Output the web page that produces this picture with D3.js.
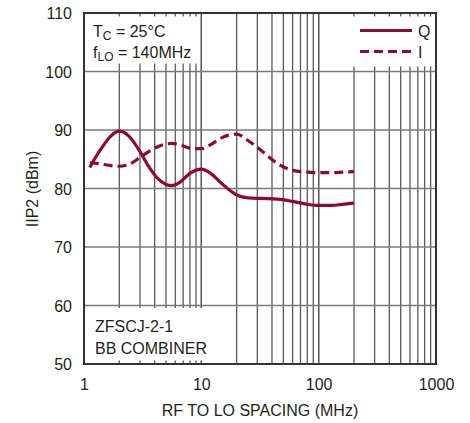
<!DOCTYPE html>
<html><head><meta charset="utf-8">
<script src="https://cdn.jsdelivr.net/npm/d3@7"></script>
<style>
body{margin:0;background:#fff;}
text{font-family:"Liberation Sans Narrow","Arial Narrow","Liberation Sans",sans-serif;fill:#231f20;}
</style></head>
<body><svg id="c" width="470" height="423"></svg>
<script>
const freqs = [1.12, 1.4, 1.7, 2.0, 2.4, 3.0, 3.5, 4.2, 5.0, 5.6, 6.5, 8, 10, 12, 15, 20, 25, 32, 45, 60, 80, 100, 130, 160, 200];
const qValues = [83.6, 86.8, 89.0, 89.8, 89.0, 86.3, 84.0, 81.8, 80.7, 80.5, 81.0, 82.6, 83.3, 82.6, 80.8, 78.9, 78.4, 78.3, 78.2, 77.8, 77.3, 77.1, 77.1, 77.3, 77.5];
const iValues = [84.4, 84.2, 83.9, 83.8, 84.1, 85.3, 86.2, 87.1, 87.6, 87.7, 87.5, 86.9, 86.8, 87.5, 88.7, 89.3, 88.2, 86.6, 84.2, 83.1, 82.8, 82.7, 82.7, 82.8, 82.9];
const xTicks = [1, 10, 100, 1000];
const yTicks = [50, 60, 70, 80, 90, 100, 110];
const seriesNames = ["Q", "I"];

const svg = d3.select("#c");
const L = 84, R = 436, T = 13, B = 364;
const x = d3.scaleLog().domain([1, 1000]).range([L, R]);
const y = d3.scaleLinear().domain([50, 110]).range([B, T]);
const col = "#8e0b2f";

// minor vertical grid
const minors = [];
for (let d = 1; d < 1000; d *= 10) for (let k = 1; k <= 10; k++) minors.push(d * k);
const g = svg.append("g");
g.selectAll("line.v").data(minors.filter(v => v > 1 && v < 1000)).enter().append("line")
  .attr("x1", d => x(d)).attr("x2", d => x(d)).attr("y1", T).attr("y2", B)
  .attr("stroke", "#5a5a5a").attr("stroke-width", 1.3);
g.selectAll("line.h").data(yTicks.filter(v => v > 50 && v < 110)).enter().append("line")
  .attr("x1", L).attr("x2", R).attr("y1", d => y(d)).attr("y2", d => y(d))
  .attr("stroke", "#7a7a7a").attr("stroke-width", 1.3);

// white label boxes
svg.append("rect").attr("x", L + 2).attr("y", T + 3.5).attr("width", 114).attr("height", 47).attr("fill", "#fff");
svg.append("rect").attr("x", 346).attr("y", T + 3.5).attr("width", R - 348).attr("height", 50).attr("fill", "#fff");
svg.append("rect").attr("x", L + 2).attr("y", 308).attr("width", 120).attr("height", B - 308 - 3.5).attr("fill", "#fff");

// frame
svg.append("rect").attr("x", L).attr("y", T).attr("width", R - L).attr("height", B - T)
  .attr("fill", "none").attr("stroke", "#333").attr("stroke-width", 2);

// axes labels
const xAxis = d3.axisBottom(x).tickValues(xTicks).tickFormat(d3.format("d")).tickSize(0).tickPadding(0);
const xa = svg.append("g").attr("transform", `translate(0,${B})`).call(xAxis);
xa.select(".domain").remove();
xa.selectAll("text").attr("dy", 0).attr("y", 26).style("font-size", "16px").attr("fill", "#231f20");
const yAxis = d3.axisLeft(y).tickValues(yTicks).tickSize(0).tickPadding(0);
const ya = svg.append("g").attr("transform", `translate(${L - 12},0)`).call(yAxis);
ya.select(".domain").remove();
ya.selectAll("text").attr("dy", "0.35em").style("font-size", "16px").attr("fill", "#231f20");

svg.append("text").attr("x", 260).attr("y", 416).attr("text-anchor", "middle").style("font-size", "16px").text("RF TO LO SPACING (MHz)");
svg.append("text").attr("transform", "translate(38,189) rotate(-90)").attr("text-anchor", "middle").style("font-size", "16px").text("IIP2 (dBm)");

// annotations
const t1 = svg.append("text").attr("x", 93).attr("y", 37).style("font-size", "16px");
t1.append("tspan").text("T");
t1.append("tspan").attr("dy", 3).style("font-size", "12px").text("C");
t1.append("tspan").attr("dy", -3).text(" = 25°C");
const t2 = svg.append("text").attr("x", 93).attr("y", 58).style("font-size", "16px");
t2.append("tspan").text("f");
t2.append("tspan").attr("dy", 3).style("font-size", "12px").text("LO");
t2.append("tspan").attr("dy", -3).text(" = 140MHz");
svg.append("text").attr("x", 95).attr("y", 332).style("font-size", "16px").text("ZFSCJ-2-1");
svg.append("text").attr("x", 95).attr("y", 354).style("font-size", "16px").text("BB COMBINER");

// curves
const line = d3.line().x(d => x(d[0])).y(d => y(d[1])).curve(d3.curveMonotoneX);
const qData = freqs.map((f, i) => [f, qValues[i]]);
const iData = freqs.map((f, i) => [f, iValues[i]]);
svg.append("path").attr("d", line(iData)).attr("fill", "none").attr("stroke", col).attr("stroke-width", 3.2).attr("stroke-dasharray", "9,5");
svg.append("path").attr("d", line(qData)).attr("fill", "none").attr("stroke", col).attr("stroke-width", 3.2);

// legend
const leg = [{name: seriesNames[0], dash: null, y: 30.5}, {name: seriesNames[1], dash: "9,5", y: 51.5}];
leg.forEach(l => {
  svg.append("line").attr("x1", 360).attr("x2", 412).attr("y1", l.y).attr("y2", l.y)
    .attr("stroke", col).attr("stroke-width", 3.2).attr("stroke-dasharray", l.dash);
  svg.append("text").attr("x", 418).attr("y", l.y + 6).style("font-size", "16px").text(l.name);
});
</script></body></html>
